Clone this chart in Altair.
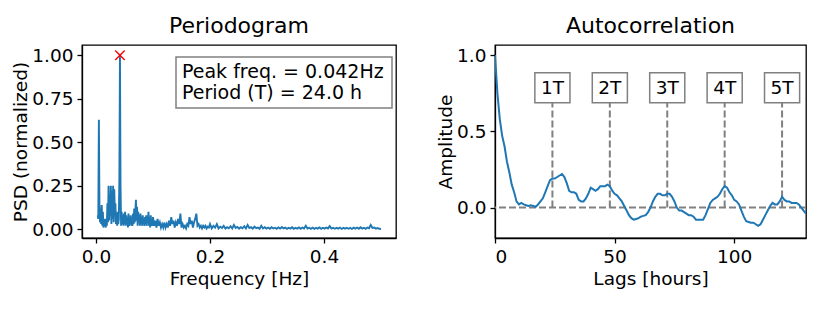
import altair as alt
import pandas as pd

# ---------------- Periodogram data ----------------
# low-frequency part: 0.003 .. 0.100 Hz, step 0.001
psd_low = [0.08, 0.06, 0.63, 0.15, 0.04, 0.12, 0.03, 0.14, 0.02, 0.10,
           0.01, 0.05, 0.02, 0.06, 0.01, 0.04, 0.02, 0.15, 0.04, 0.25,
           0.05, 0.20, 0.08, 0.25, 0.03, 0.22, 0.06, 0.25, 0.04, 0.23,
           0.10, 0.15, 0.03, 0.09, 0.02, 0.10, 0.03, 0.06, 0.30, 1.00,
           0.25, 0.02, 0.10, 0.03, 0.08, 0.02, 0.09, 0.03, 0.10, 0.02,
           0.08, 0.03, 0.06, 0.01, 0.09, 0.02, 0.07, 0.03, 0.08, 0.02,
           0.06, 0.02, 0.09, 0.03, 0.12, 0.04, 0.10, 0.17, 0.05, 0.13,
           0.02, 0.10, 0.04, 0.08, 0.02, 0.09, 0.03, 0.07, 0.02, 0.08,
           0.03, 0.06, 0.02, 0.07, 0.03, 0.08, 0.02, 0.07, 0.04, 0.10,
           0.02, 0.06, 0.01, 0.08, 0.02, 0.05, 0.02, 0.07]
# mid part: 0.102 .. 0.200 Hz, step 0.002
psd_mid = [0.02, 0.05, 0.01, 0.06, 0.02, 0.04, 0.01, 0.03, 0.01, 0.04,
           0.01, 0.03, 0.01, 0.05, 0.02, 0.07, 0.03, 0.05, 0.01, 0.04,
           0.02, 0.06, 0.03, 0.09, 0.01, 0.03, 0.01, 0.02, 0.005, 0.03,
           0.02, 0.07, 0.03, 0.05, 0.01, 0.04, 0.06, 0.09, 0.02, 0.03,
           0.01, 0.02, 0.005, 0.02, 0.01, 0.02, 0.005, 0.015, 0.01, 0.03]
# high part: 0.203 .. 0.500 Hz, step 0.003
psd_high = [0.005, 0.02, 0.01, 0.03, 0.005, 0.015, 0.008, 0.02, 0.004, 0.012,
            0.006, 0.018, 0.005, 0.025, 0.008, 0.014, 0.004, 0.012, 0.006, 0.018,
            0.005, 0.025, 0.007, 0.012, 0.004, 0.015, 0.006, 0.01, 0.003, 0.02,
            0.005, 0.012, 0.004, 0.01, 0.003, 0.012, 0.005, 0.009, 0.003, 0.011,
            0.004, 0.013, 0.005, 0.01, 0.003, 0.009, 0.004, 0.012, 0.003, 0.008,
            0.004, 0.011, 0.003, 0.01, 0.005, 0.02, 0.004, 0.009, 0.003, 0.01,
            0.003, 0.008, 0.004, 0.011, 0.003, 0.009, 0.004, 0.01, 0.005, 0.018,
            0.004, 0.009, 0.003, 0.008, 0.004, 0.01, 0.002, 0.008, 0.004, 0.009,
            0.003, 0.008, 0.002, 0.009, 0.004, 0.01, 0.003, 0.012, 0.004, 0.009,
            0.003, 0.01, 0.006, 0.025, 0.008, 0.01, 0.004, 0.007, 0.003, 0.002]
freq = ([round(0.003 + 0.001 * i, 4) for i in range(len(psd_low))]
        + [round(0.102 + 0.002 * i, 4) for i in range(len(psd_mid))]
        + [round(0.203 + 0.003 * i, 4) for i in range(len(psd_high))])
psd = psd_low + psd_mid + psd_high
peak_freq = [0.042]
peak_psd = [1.0]
info_lines = ["Peak freq. = 0.042Hz", "Period (T) = 24.0 h"]

# ---------------- Autocorrelation data ----------------
lags = list(range(0, 131))
acf = [1.00, 0.75, 0.58, 0.47, 0.40, 0.30, 0.23, 0.15, 0.10, 0.04,
       0.02, 0.03, 0.02, 0.015, 0.01, 0.015, 0.01, 0.005, 0.02, 0.04,
       0.06, 0.10, 0.14, 0.18, 0.19, 0.19, 0.20, 0.21, 0.22, 0.20,
       0.16, 0.11, 0.10, 0.10, 0.09, 0.05, 0.04, 0.04, 0.06, 0.09,
       0.13, 0.12, 0.11, 0.12, 0.14, 0.14, 0.14, 0.15, 0.14, 0.11,
       0.09, 0.08, 0.06, 0.04, 0.01, -0.02, -0.05, -0.07, -0.08, -0.075,
       -0.07, -0.06, -0.055, -0.05, -0.03, 0.00, 0.04, 0.07, 0.09, 0.09,
       0.08, 0.08, 0.09, 0.09, 0.07, 0.04, 0.00, -0.02, -0.02, -0.03,
       -0.04, -0.05, -0.05, -0.06, -0.08, -0.08, -0.08, -0.08, -0.05, -0.01,
       0.03, 0.05, 0.06, 0.07, 0.09, 0.12, 0.14, 0.13, 0.10, 0.08,
       0.05, 0.04, 0.02, -0.02, -0.06, -0.09, -0.095, -0.10, -0.10, -0.11,
       -0.12, -0.11, -0.08, -0.05, -0.02, 0.01, 0.03, 0.02, 0.02, 0.04,
       0.07, 0.05, 0.04, 0.04, 0.03, 0.03, 0.03, 0.02, 0.00, -0.02,
       -0.04]
period_lags = [24, 48, 72, 96, 120]
period_labels = ["1T", "2T", "3T", "4T", "5T"]
label_level = 0.785
rule_top = 0.69

FONT = "DejaVu Sans"
BLUE = "#1f77b4"
GRAY = "#808080"
W, H = 314, 193

df_psd = pd.DataFrame({"f": freq, "p": psd})
df_peak = pd.DataFrame({"f": peak_freq, "p": peak_psd})
df_acf = pd.DataFrame({"lag": lags, "acf": acf})
df_per = pd.DataFrame({"lag": period_lags, "label": period_labels,
                       "lvl": [label_level] * 5, "top": [rule_top] * 5,
                       "zero": [0.0] * 5})
df_zero = pd.DataFrame({"y": [0.0]})

xs_l = alt.Scale(domain=[-0.0246, 0.5263], nice=False, zero=False)
ys_l = alt.Scale(domain=[-0.05, 1.059], nice=False, zero=False)

x_left = alt.X("f:Q", scale=xs_l, title="Frequency [Hz]",
               axis=alt.Axis(values=[0, 0.2, 0.4], format=".1f"))
y_left = alt.Y("p:Q", scale=ys_l, title="PSD (normalized)",
               axis=alt.Axis(values=[0, 0.25, 0.5, 0.75, 1.0], format=".2f"))

line_l = alt.Chart(df_psd).mark_line(color=BLUE, strokeWidth=1.9, clip=True).encode(
    x=x_left, y=y_left)
peak = alt.Chart(df_peak).mark_point(
    shape="M-1,-1L1,1M-1,1L1,-1", size=90, color="red", strokeWidth=1.4, opacity=1
).encode(x="f:Q", y="p:Q")
box = alt.Chart(df_peak).mark_rect(
    fill="white", stroke=GRAY, strokeWidth=1.5
).encode(x=alt.value(94), x2=alt.value(310), y=alt.value(12), y2=alt.value(63))
txt1 = alt.Chart(df_peak).mark_text(
    align="left", baseline="middle", fontSize=19, font=FONT, color="black",
    text=info_lines[0]).encode(x=alt.value(100), y=alt.value(27))
txt2 = alt.Chart(df_peak).mark_text(
    align="left", baseline="middle", fontSize=19, font=FONT, color="black",
    text=info_lines[1]).encode(x=alt.value(100), y=alt.value(47.5))

left = alt.layer(line_l, peak, box, txt1, txt2).properties(
    width=W, height=H, title="Periodogram")

xs_r = alt.Scale(domain=[0, 130], nice=False, zero=False)
ys_r = alt.Scale(domain=[-0.2, 1.066], nice=False, zero=False)
x_right = alt.X("lag:Q", scale=xs_r, title="Lags [hours]",
                axis=alt.Axis(values=[0, 50, 100], format="d"))
y_right = alt.Y("acf:Q", scale=ys_r, title="Amplitude",
                axis=alt.Axis(values=[0, 0.5, 1.0], format=".1f"))

zero_rule = alt.Chart(df_zero).mark_rule(
    color=GRAY, strokeWidth=2, strokeDash=[7, 3]).encode(
    y=alt.Y("y:Q", scale=ys_r))
vrules = alt.Chart(df_per).mark_rule(
    color=GRAY, strokeWidth=2, strokeDash=[7, 3]).encode(
    x=alt.X("lag:Q", scale=xs_r), y=alt.Y("zero:Q", scale=ys_r), y2="top:Q")
line_r = alt.Chart(df_acf).mark_line(color=BLUE, strokeWidth=2, clip=True).encode(
    x=x_right, y=y_right)
boxes = alt.Chart(df_per).mark_point(
    shape="M-1.17,-1L1.17,-1L1.17,1L-1.17,1Z", size=900, filled=True,
    fill="white", stroke=GRAY, strokeWidth=1.5, opacity=1, fillOpacity=1
).encode(x=alt.X("lag:Q", scale=xs_r), y=alt.Y("lvl:Q", scale=ys_r))
labels = alt.Chart(df_per).mark_text(
    fontSize=18.5, font=FONT, color="black", baseline="middle", align="center"
).encode(x=alt.X("lag:Q", scale=xs_r), y=alt.Y("lvl:Q", scale=ys_r), text="label:N")

right = alt.layer(zero_rule, vrules, line_r, boxes, labels).properties(
    width=W - 3, height=H, title="Autocorrelation")

chart = alt.hconcat(left, right, spacing=38).properties(
    padding={"left": 3, "top": 6, "right": 5, "bottom": 5}
).configure(font=FONT).configure_view(
    stroke="black", strokeWidth=1.3
).configure_axis(
    grid=False, domainColor="black", domainWidth=1.3, tickColor="black",
    tickSize=5, tickWidth=1.3, labelColor="black", labelFontSize=18.5,
    labelFont=FONT, titleFont=FONT, titleFontSize=18.5, titleFontWeight="normal",
    titleColor="black", labelPadding=4
).configure_axisX(titlePadding=4).configure_axisY(titlePadding=1).configure_title(
    font=FONT, fontSize=22, fontWeight="normal", color="black", offset=7
)

chart.save("out.html", embed_options={"renderer": "svg", "actions": False})
